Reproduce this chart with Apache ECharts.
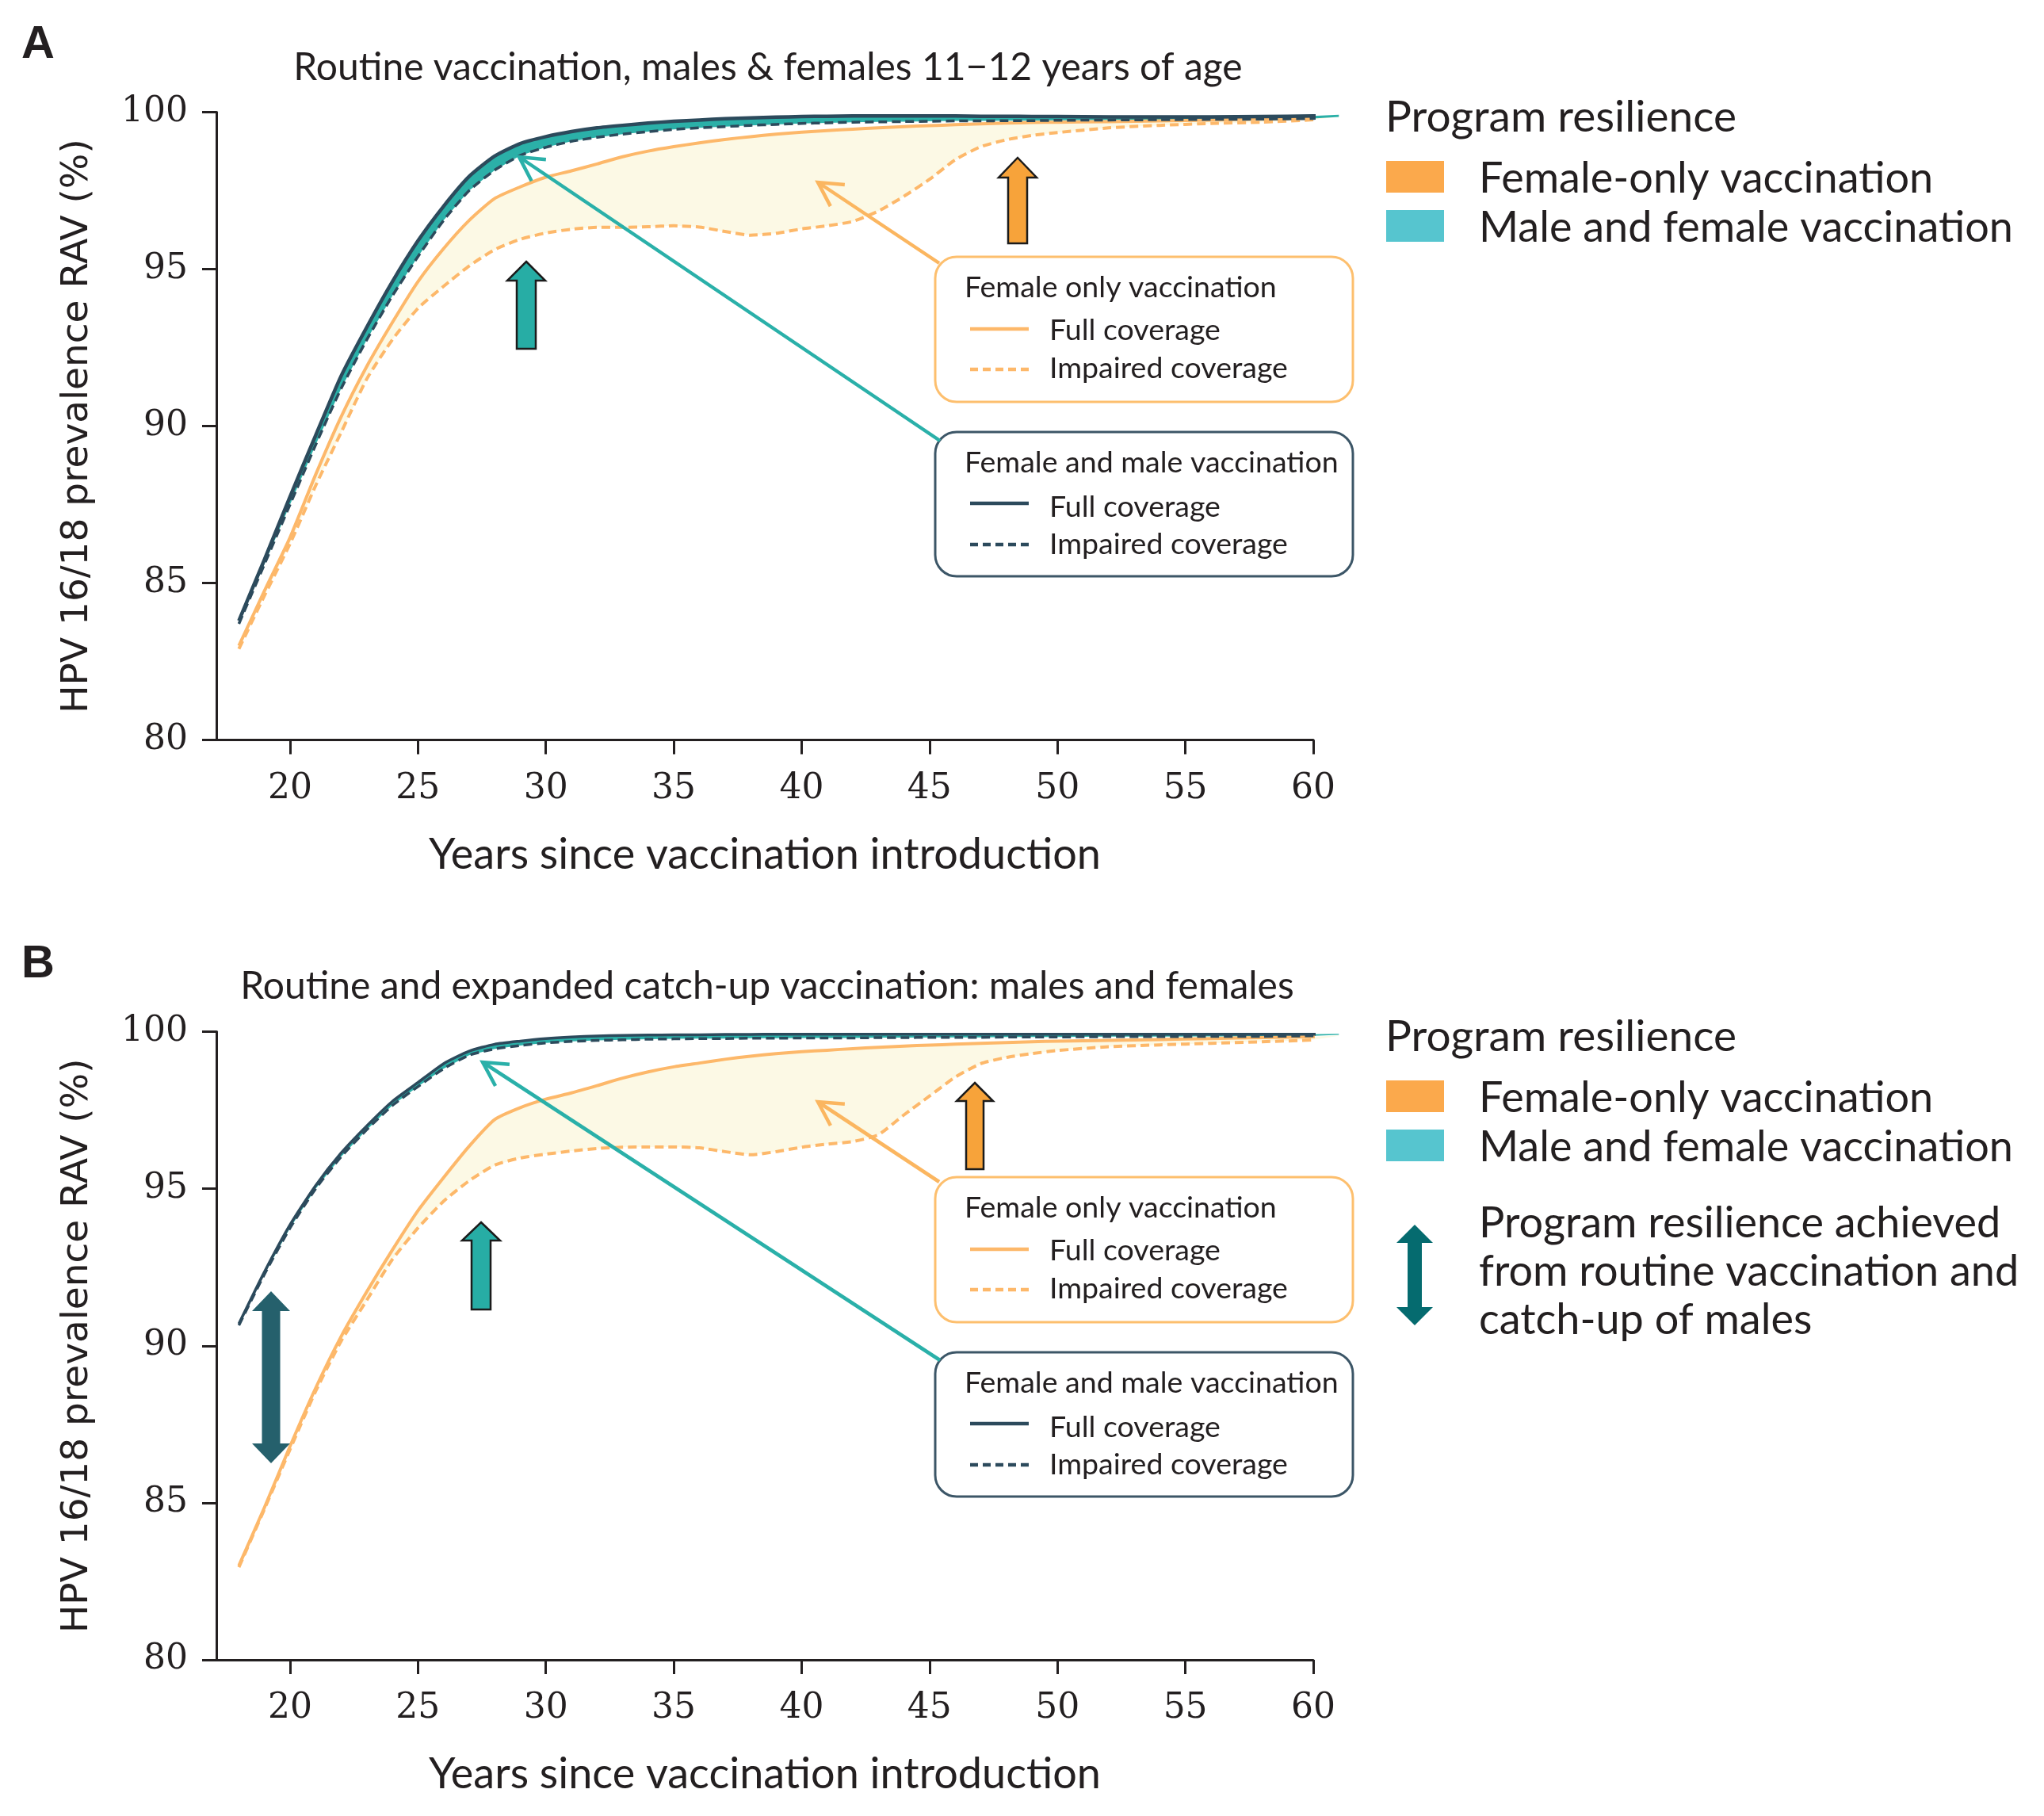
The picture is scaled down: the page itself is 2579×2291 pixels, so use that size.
<!DOCTYPE html>
<html>
<head>
<meta charset="utf-8">
<script src="https://cdn.jsdelivr.net/npm/echarts@6/dist/echarts.min.js"></script>
<style>
html,body{margin:0;padding:0;background:#fff;}
#chart{width:2579px;height:2291px;}
</style>
</head>
<body>
<div id="chart"></div>
<script>
// ---------- DATA ----------
const years = [18,19,20,21,22,23,24,25,26,27,28,29,30,31,32,33,34,35,36,37,38,39,40,41,42,43,44,45,46,47,48,49,50,52,54,56,58,60,61];
const xTicks = [20,25,30,35,40,45,50,55,60];

// Panel A: routine vaccination
const A_mfFull = [83.8,85.75,87.75,89.7,91.6,93.15,94.6,95.9,97.0,97.95,98.6,99.0,99.22,99.38,99.5,99.58,99.65,99.71,99.75,99.79,99.82,99.84,99.86,99.87,99.88,99.88,99.88,99.88,99.88,99.87,99.87,99.86,99.86,99.85,99.85,99.85,99.86,99.88,99.92];
const A_mfImp  = [83.7,85.6,87.5,89.4,91.2,92.75,94.15,95.4,96.55,97.5,98.15,98.62,98.88,99.07,99.2,99.3,99.38,99.45,99.5,99.54,99.58,99.61,99.64,99.66,99.68,99.69,99.7,99.71,99.72,99.72,99.73,99.73,99.74,99.75,99.76,99.77,99.78,99.8,99.85];
const A_fFull  = [83.0,84.75,86.45,88.45,90.3,91.9,93.3,94.6,95.65,96.55,97.25,97.62,97.93,98.13,98.35,98.58,98.76,98.9,99.02,99.13,99.22,99.3,99.36,99.41,99.46,99.5,99.54,99.57,99.6,99.63,99.65,99.67,99.68,99.7,99.72,99.75,99.78,99.82,99.88];
const A_fImp   = [82.9,84.6,86.25,88.1,89.8,91.5,92.75,93.75,94.45,95.1,95.62,95.95,96.15,96.27,96.33,96.33,96.35,96.38,96.34,96.2,96.08,96.14,96.28,96.38,96.52,96.85,97.32,97.86,98.48,98.9,99.12,99.26,99.35,99.5,99.58,99.64,99.68,99.76,99.85];

// Panel B: routine and expanded catch-up vaccination
const B_mfFull = [90.7,92.35,93.85,95.1,96.14,97.0,97.78,98.38,98.98,99.38,99.6,99.7,99.78,99.83,99.86,99.88,99.89,99.9,99.9,99.91,99.91,99.92,99.92,99.92,99.92,99.92,99.92,99.92,99.92,99.92,99.92,99.92,99.92,99.92,99.92,99.92,99.92,99.92,99.93];
const B_mfImp  = [90.65,92.28,93.75,95.0,96.02,96.88,97.65,98.25,98.82,99.25,99.45,99.56,99.64,99.69,99.72,99.74,99.76,99.77,99.78,99.78,99.79,99.79,99.8,99.8,99.8,99.81,99.81,99.82,99.82,99.82,99.83,99.83,99.83,99.84,99.84,99.85,99.85,99.87,99.9];
const B_fFull  = [83.0,84.85,86.8,88.65,90.3,91.72,93.05,94.3,95.35,96.35,97.2,97.58,97.85,98.05,98.28,98.52,98.72,98.88,99.0,99.12,99.22,99.3,99.36,99.41,99.46,99.5,99.54,99.57,99.6,99.63,99.65,99.68,99.7,99.72,99.75,99.78,99.81,99.84,99.88];
const B_fImp   = [82.95,84.8,86.7,88.55,90.15,91.45,92.75,93.75,94.6,95.25,95.75,95.98,96.1,96.2,96.28,96.32,96.33,96.33,96.3,96.18,96.08,96.18,96.32,96.42,96.5,96.72,97.35,97.95,98.55,98.98,99.18,99.3,99.4,99.52,99.58,99.63,99.68,99.74,99.87];

const titleA = 'Routine vaccination, males & females 11\u221212 years of age';
const titleB = 'Routine and expanded catch-up vaccination: males and females';
const yName = 'HPV 16/18 prevalence RAV (%)';
const xName = 'Years since vaccination introduction';

// ---------- STYLE ----------
const INK = '#231f20';
const NAVY = '#2c4a5c';
const TEAL = '#2bb0a8';
const ORANGE = '#fdb86a';
const CREAM = '#fcf9e5';
const SANS = 'Lato';
const SERIF = 'DejaVu Serif';

const chart = echarts.init(document.getElementById('chart'), null, {renderer:'canvas'});

function pairs(ys){ return years.map((x,i)=>[x, ys[i]]); }

function band(gi, upper, lower, color){
  return {
    type:'custom', xAxisIndex:gi, yAxisIndex:gi, silent:true, clip:false, z:1,
    data:[[years[0], upper[0]]],
    renderItem:function(params, api){
      const pts = [];
      for (let i=0;i<years.length;i++) pts.push(api.coord([years[i], upper[i]]));
      for (let i=years.length-1;i>=0;i--) pts.push(api.coord([years[i], lower[i]]));
      return {type:'polygon', shape:{points:pts}, style:{fill:color, stroke:null}};
    }
  };
}
function line(gi, ys, color, width, dashed, z){
  return {
    type:'line', xAxisIndex:gi, yAxisIndex:gi, data:pairs(ys), showSymbol:false, symbol:'none',
    smooth:0.2, clip:false, silent:true, z:z,
    lineStyle:{color:color, width:width, type: dashed ? [11,6] : 'solid', cap:'butt', join:'round'}
  };
}

const grids = [
  {left:273, top:141.5, width:1384, height:792},
  {left:273, top:1301.5, width:1384, height:792.5}
];

function xAxisCfg(gi){
  return {
    gridIndex:gi, type:'value', min:17.12, max:60,
    axisLine:{show:true, onZero:false, lineStyle:{color:INK, width:3}},
    axisTick:{show:true, length:18, customValues:xTicks, lineStyle:{color:INK, width:3}},
    axisLabel:{customValues:xTicks, fontFamily:SERIF, fontSize:44, color:INK, margin:40},
    splitLine:{show:false},
    name:xName, nameLocation:'middle', nameGap:118,
    nameTextStyle:{fontFamily:SANS, fontSize:54, color:INK}
  };
}
function yAxisCfg(gi){
  return {
    gridIndex:gi, type:'value', min:80, max:100, interval:5,
    axisLine:{show:true, lineStyle:{color:INK, width:3}},
    axisTick:{show:true, length:18, lineStyle:{color:INK, width:3}},
    axisLabel:{fontFamily:SERIF, fontSize:44, color:INK, margin:36},
    splitLine:{show:false},
    name:yName, nameLocation:'middle', nameGap:152,
    nameTextStyle:{fontFamily:'DejaVu Sans', fontSize:47, color:INK}
  };
}

// ---------- ANNOTATIONS (pixel layout) ----------
function upArrow(cx, ty, hb, hw, sw, by, fill){
  return {type:'polygon', z:20, shape:{points:[[cx,ty],[cx+hw,hb],[cx+sw,hb],[cx+sw,by],[cx-sw,by],[cx-sw,hb],[cx-hw,hb]]},
    style:{fill:fill, stroke:'#1b1b1b', lineWidth:2.5, lineJoin:'miter'}};
}
function dblArrow(cx, ty, hb1, hb2, by, hw, sw, fill){
  return {type:'polygon', z:20, shape:{points:[[cx,ty],[cx+hw,hb1],[cx+sw,hb1],[cx+sw,hb2],[cx+hw,hb2],[cx,by],[cx-hw,hb2],[cx-sw,hb2],[cx-sw,hb1],[cx-hw,hb1]]},
    style:{fill:fill}};
}
function connector(x1,y1,x2,y2,color){
  const a = Math.atan2(y1-y2, x1-x2), L = 34, s = 0.5;
  return [
    {type:'line', z:20, shape:{x1:x1,y1:y1,x2:x2,y2:y2}, style:{stroke:color, lineWidth:4.5}},
    {type:'polyline', z:20, shape:{points:[[x2+L*Math.cos(a+s), y2+L*Math.sin(a+s)],[x2,y2],[x2+L*Math.cos(a-s), y2+L*Math.sin(a-s)]]},
      style:{stroke:color, lineWidth:4.5, fill:null, lineJoin:'miter'}}
  ];
}
function txt(x, y, text, size, align){
  return {type:'text', z:30, x:x, y:y, style:{text:text, fontFamily:SANS, fontSize:size, fill:INK, textVerticalAlign:'middle', textAlign:align||'left'}};
}
function legendBoxes(dy){
  const g = [];
  g.push({type:'rect', z:15, shape:{x:1180, y:324+dy, width:527, height:183, r:27}, style:{fill:'#fff', stroke:'#fdbf6e', lineWidth:3}});
  g.push(txt(1217, 363+dy, 'Female only vaccination', 37.5));
  g.push({type:'line', z:30, shape:{x1:1224,y1:415+dy,x2:1298,y2:415+dy}, style:{stroke:ORANGE, lineWidth:4.5}});
  g.push(txt(1324, 417+dy, 'Full coverage', 37.5));
  g.push({type:'line', z:30, shape:{x1:1224,y1:466+dy,x2:1298,y2:466+dy}, style:{stroke:ORANGE, lineWidth:4.5, lineDash:[10,6]}});
  g.push(txt(1324, 465+dy, 'Impaired coverage', 37.5));

  g.push({type:'rect', z:15, shape:{x:1180, y:545+dy, width:527, height:182, r:27}, style:{fill:'#fff', stroke:'#3c5667', lineWidth:3}});
  g.push(txt(1217, 584+dy, 'Female and male vaccination', 37.5));
  g.push({type:'line', z:30, shape:{x1:1224,y1:635+dy,x2:1298,y2:635+dy}, style:{stroke:NAVY, lineWidth:4.5}});
  g.push(txt(1324, 640+dy, 'Full coverage', 37.5));
  g.push({type:'line', z:30, shape:{x1:1224,y1:687+dy,x2:1298,y2:687+dy}, style:{stroke:NAVY, lineWidth:4.5, lineDash:[10,6]}});
  g.push(txt(1324, 687+dy, 'Impaired coverage', 37.5));
  return g;
}
function sideLegend(dy){
  return [
    txt(1748, 148+dy, 'Program resilience', 55),
    {type:'rect', z:30, shape:{x:1749, y:203+dy, width:73, height:40}, style:{fill:'#fba94c'}},
    txt(1866, 226+dy, 'Female-only vaccination', 54),
    {type:'rect', z:30, shape:{x:1749, y:265+dy, width:73, height:40}, style:{fill:'#56c5cf'}},
    txt(1866, 288+dy, 'Male and female vaccination', 54)
  ];
}

let graphics = [];
graphics.push({type:'text', z:30, x:48, y:57, style:{text:'A', fontFamily:'Liberation Sans', fontWeight:'bold', fontSize:58, fill:INK, textAlign:'center', textVerticalAlign:'middle'}});
graphics.push({type:'text', z:30, x:48, y:1217, style:{text:'B', fontFamily:'Liberation Sans', fontWeight:'bold', fontSize:58, fill:INK, textAlign:'center', textVerticalAlign:'middle'}});
graphics.push(txt(969, 86, titleA, 48, 'center'));
graphics.push(txt(968, 1245, titleB, 48, 'center'));

graphics = graphics.concat(legendBoxes(0), legendBoxes(1161), sideLegend(0), sideLegend(1160));
// panel A arrows
graphics = graphics.concat(connector(1185,332,1032,230,'#fbb660'), connector(1186,556,655,198,'#2ab0a9'));
graphics.push(upArrow(664, 330, 354, 24, 12, 440, '#27ada5'));
graphics.push(upArrow(1284, 199, 224, 24, 12, 307, '#f7a33a'));
// panel B arrows
graphics = graphics.concat(connector(1185,1491,1032,1390,'#fbb660'), connector(1186,1716,609,1340,'#2ab0a9'));
graphics.push(upArrow(607, 1542, 1565, 24, 12, 1652, '#27ada5'));
graphics.push(upArrow(1230, 1366, 1389, 23, 11, 1475, '#f7a33a'));
graphics.push(dblArrow(342, 1629, 1654, 1821, 1846, 24, 11.5, '#25606c'));
// side legend B extra
graphics.push(dblArrow(1785, 1545, 1568, 1649, 1672, 23, 9, '#056b6f'));
graphics.push(txt(1866, 1544, 'Program resilience achieved', 54));
graphics.push(txt(1866, 1605, 'from routine vaccination and', 54));
graphics.push(txt(1866, 1666, 'catch-up of males', 54));

const series = [];
[[0,A_mfFull,A_mfImp,A_fFull,A_fImp,4.5],[1,B_mfFull,B_mfImp,B_fFull,B_fImp,3.5]].forEach(function(p){
  const gi=p[0];
  series.push(band(gi, p[3], p[4], CREAM));
  series.push(band(gi, p[1], p[2], TEAL));
  series.push(line(gi, p[3], ORANGE, 4, false, 3));
  series.push(line(gi, p[4], ORANGE, 4, true, 3));
  series.push(line(gi, p[2], NAVY, 3.5, true, 4));
  series.push(line(gi, p[1], NAVY, p[5], false, 5));
});

chart.setOption({
  backgroundColor:'#ffffff',
  animation:false,
  grid:grids,
  xAxis:[xAxisCfg(0), xAxisCfg(1)],
  yAxis:[yAxisCfg(0), yAxisCfg(1)],
  series:series,
  graphic:graphics
});
</script>
</body>
</html>
